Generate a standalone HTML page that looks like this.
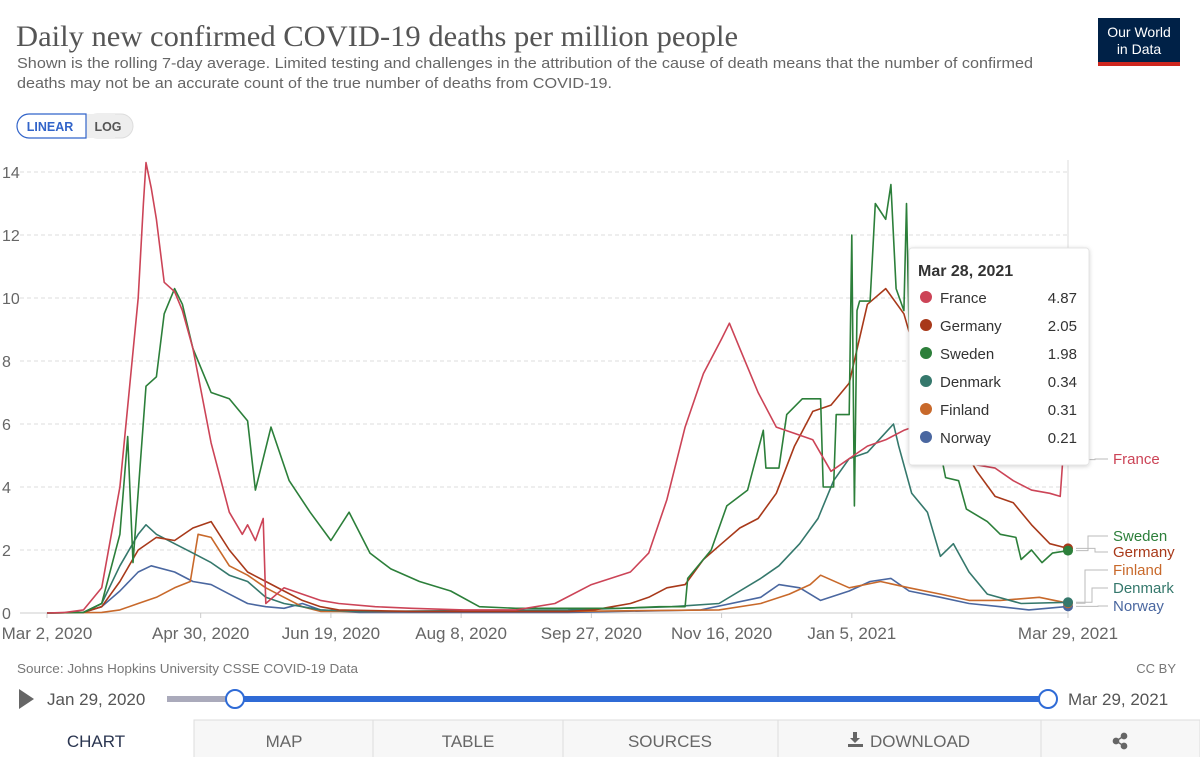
<!DOCTYPE html>
<html><head><meta charset="utf-8">
<style>
html,body{margin:0;padding:0;background:#fff;width:1200px;height:757px;overflow:hidden;font-family:"Liberation Sans",sans-serif;}
svg text{font-family:"Liberation Sans",sans-serif;}
</style></head>
<body>
<svg id="chart" width="1200" height="757" viewBox="0 0 1200 757" xmlns="http://www.w3.org/2000/svg">
  <defs>
    <filter id="sh" x="-10%" y="-10%" width="120%" height="120%"><feDropShadow dx="0" dy="1" stdDeviation="2" flood-color="#000" flood-opacity="0.18"/></filter>
  </defs>
  <text x="16" y="46" font-size="30" fill="#555" textLength="722" lengthAdjust="spacingAndGlyphs" style="font-family:'Liberation Serif',serif">Daily new confirmed COVID-19 deaths per million people</text>
  <text x="17" y="68" font-size="15" fill="#666" textLength="1016" lengthAdjust="spacingAndGlyphs">Shown is the rolling 7-day average. Limited testing and challenges in the attribution of the cause of death means that the number of confirmed</text>
  <text x="17" y="88" font-size="15" fill="#666" textLength="595" lengthAdjust="spacingAndGlyphs">deaths may not be an accurate count of the true number of deaths from COVID-19.</text>
  <g>
    <rect x="1098" y="18" width="82" height="48" fill="#002147"/>
    <rect x="1098" y="62" width="82" height="4" fill="#ce261e"/>
    <text x="1139" y="37" font-size="14" fill="#fff" text-anchor="middle">Our World</text>
    <text x="1139" y="54" font-size="14" fill="#fff" text-anchor="middle">in Data</text>
  </g>
  <g>
    <rect x="85" y="114" width="48" height="24" rx="12" fill="#eee" stroke="#ddd"/>
    <rect x="85" y="114" width="30" height="24" fill="#eee"/>
    <path d="M29,114 H86 V138 H29 A12,12 0 0 1 29,114 Z" fill="#fff" stroke="#3264c9" stroke-width="1.2"/>
    <text x="50" y="131" font-size="12.5" fill="#3264c9" text-anchor="middle" font-weight="bold">LINEAR</text>
    <text x="108" y="131" font-size="12.5" fill="#555" text-anchor="middle" font-weight="bold">LOG</text>
  </g>
  <g id="axes"></g>
  <g id="series"></g>
  <g id="labels"></g>
  <g filter="url(#sh)">
    <rect x="909" y="248" width="180" height="217" rx="3" fill="#fff" stroke="#e4e4e4"/>
  </g>
  <g id="tooltip-content"></g>

  <text x="17" y="673" font-size="13" fill="#777" textLength="341" lengthAdjust="spacingAndGlyphs">Source: Johns Hopkins University CSSE COVID-19 Data</text>
  <text x="1176" y="673" font-size="13" fill="#777" text-anchor="end">CC BY</text>
  <path d="M19,689 L34,699 L19,709 Z" fill="#666"/>
  <text x="47" y="705" font-size="17" fill="#555">Jan 29, 2020</text>
  <rect x="167" y="696" width="70" height="6" fill="#aab"/>
  <rect x="235" y="696" width="813" height="6" fill="#2f6bd6"/>
  <circle cx="235" cy="699" r="9" fill="#fff" stroke="#2f6bd6" stroke-width="2"/>
  <circle cx="1048" cy="699" r="9" fill="#fff" stroke="#2f6bd6" stroke-width="2"/>
  <text x="1068" y="705" font-size="17" fill="#555">Mar 29, 2021</text>

  <g>
    <rect x="194" y="720" width="1006" height="40" fill="#f7f7f7" stroke="#ddd"/>
    <line x1="373" y1="720" x2="373" y2="757" stroke="#ddd"/>
    <line x1="563" y1="720" x2="563" y2="757" stroke="#ddd"/>
    <line x1="778" y1="720" x2="778" y2="757" stroke="#ddd"/>
    <line x1="1041" y1="720" x2="1041" y2="757" stroke="#ddd"/>
    <text x="96" y="747" font-size="17" fill="#2a3550" text-anchor="middle">CHART</text>
    <text x="284" y="747" font-size="17" fill="#666" text-anchor="middle">MAP</text>
    <text x="468" y="747" font-size="17" fill="#666" text-anchor="middle">TABLE</text>
    <text x="670" y="747" font-size="17" fill="#666" text-anchor="middle">SOURCES</text>
    <g>
      <path d="M853,732 h4 v6 h3 l-5,5 l-5,-5 h3 Z M848,744 h15 v3 h-15 Z" fill="#666"/>
      <text x="920" y="747" font-size="17" fill="#666" text-anchor="middle">DOWNLOAD</text>
    </g>
    <g fill="#666" stroke="#666" stroke-width="1.5">
      <line x1="1116" y1="741" x2="1124" y2="736"/><line x1="1116" y1="741" x2="1124" y2="746"/>
      <circle cx="1116" cy="741" r="2.6"/><circle cx="1124" cy="736" r="2.6"/><circle cx="1124" cy="746" r="2.6"/>
    </g>
  </g>
</svg>
<script>
const yTicks = [0, 2, 4, 6, 8, 10, 12, 14];
const xTickDays = [0, 59, 109, 159, 209, 259, 309, 392];
const xTickLabels = ["Mar 2, 2020","Apr 30, 2020","Jun 19, 2020","Aug 8, 2020","Sep 27, 2020","Nov 16, 2020","Jan 5, 2021","Mar 29, 2021"];
const seriesNames = ["France","Germany","Sweden","Denmark","Finland","Norway"];
const tooltipValues = ["4.87","2.05","1.98","0.34","0.31","0.21"];
const franceDays = [0,7,14,21,28,35,37,38,40,42,45,49,52,56,63,70,75,77,80,83,84,91,98,105,112,126,140,160,180,195,209,224,231,238,245,252,259,262,266,273,280,287,294,301,308,315,322,329,336,343,350,357,364,371,378,385,389,390,392];
const franceValues = [0,0.02,0.1,0.8,4,10,13,14.3,13.5,12.5,10.5,10.2,9.6,8.4,5.4,3.2,2.5,2.8,2.3,3.0,0.3,0.8,0.6,0.4,0.3,0.2,0.15,0.1,0.1,0.3,0.9,1.3,1.9,3.6,5.9,7.6,8.7,9.2,8.4,7.0,5.9,5.7,5.5,4.5,4.9,5.3,5.5,5.8,6.0,5.8,5.5,4.7,4.6,4.2,3.9,3.8,3.7,4.87,4.87];
const germanyDays = [0,14,21,28,35,42,49,56,63,70,77,84,91,98,105,112,140,200,210,217,224,231,238,245,252,259,266,273,280,287,294,301,308,315,322,329,336,343,350,357,364,371,378,385,392];
const germanyValues = [0,0.02,0.2,1.0,2.0,2.4,2.3,2.7,2.9,2.0,1.3,1.0,0.7,0.4,0.2,0.1,0.05,0.05,0.1,0.2,0.3,0.5,0.8,0.9,1.7,2.2,2.7,3.0,3.8,5.3,6.4,6.6,7.3,9.8,10.3,9.5,7.5,6.5,5.5,4.5,3.7,3.5,2.8,2.2,2.05];
const swedenDays = [0,14,21,28,31,33,38,42,45,49,52,56,63,70,77,80,86,93,101,109,116,124,132,143,155,166,180,200,220,235,245,246,255,261,269,275,276,281,284,290,297,298,302,303,308,309,310,311,312,316,318,322,324,326,329,330,331,336,345,350,353,361,366,372,374,378,382,386,392];
const swedenValues = [0,0.02,0.3,2.5,5.6,1.6,7.2,7.5,9.5,10.3,9.8,8.4,7.0,6.8,6.1,3.9,5.9,4.2,3.2,2.3,3.2,1.9,1.4,1.0,0.7,0.2,0.15,0.15,0.15,0.2,0.2,1.1,2.0,3.4,3.9,5.8,4.6,4.6,6.3,6.8,6.8,4.0,4.0,6.3,6.3,12.0,3.4,9.6,9.9,9.9,13.0,12.5,13.6,10.3,9.6,13.0,9.0,8.0,4.3,4.2,3.3,2.9,2.5,2.4,1.7,2.0,1.6,1.9,1.98];
const denmarkDays = [0,14,21,28,35,38,42,49,56,63,70,77,84,91,98,105,120,200,240,258,274,281,289,296,302,308,315,325,327,332,338,343,348,354,361,374,392];
const denmarkValues = [0,0.02,0.3,1.5,2.5,2.8,2.5,2.2,1.9,1.6,1.2,1.0,0.5,0.3,0.2,0.1,0.05,0.1,0.2,0.3,1.1,1.5,2.2,3.0,4.2,4.9,5.1,6.0,5.3,3.8,3.2,1.8,2.2,1.3,0.6,0.3,0.34];
const finlandDays = [0,21,28,35,42,49,55,58,63,70,77,84,91,98,105,200,258,274,285,293,297,308,320,331,343,354,366,381,392];
const finlandValues = [0,0.02,0.1,0.3,0.5,0.8,1.0,2.5,2.4,1.5,1.2,0.8,0.5,0.2,0.05,0.05,0.1,0.3,0.6,0.9,1.2,0.8,1.0,0.8,0.6,0.4,0.4,0.5,0.31];
const norwayDays = [0,14,21,28,35,40,49,56,63,70,77,84,91,98,105,120,200,251,274,281,289,297,308,316,324,331,343,354,366,377,392];
const norwayValues = [0,0.02,0.2,0.7,1.3,1.5,1.3,1.0,0.9,0.6,0.3,0.2,0.15,0.3,0.1,0.02,0.02,0.1,0.5,0.9,0.8,0.4,0.7,1.0,1.1,0.7,0.5,0.3,0.2,0.1,0.21];

const NS = "http://www.w3.org/2000/svg";
const X0 = 47, X1 = 1068, DMAX = 392, Y0 = 613, YTOP = 172, VMAX = 14;
function xScale(d){ return X0 + (X1 - X0) * d / DMAX; }
function yScale(v){ return Y0 - (Y0 - YTOP) * v / VMAX; }
function mk(tag, attrs, parent){ const e = document.createElementNS(NS, tag); for (const k in attrs) e.setAttribute(k, attrs[k]); parent.appendChild(e); return e; }

const axes = document.getElementById('axes');
yTicks.forEach(v => {
  const y = yScale(v);
  if (v > 0) {
    const g = mk('line', {x1: 20, x2: X1, y1: y, y2: y, stroke: '#ddd', 'stroke-dasharray': '4,3'}, axes);
    
    
  }
  const t = mk('text', {x: 2, y: y + 6, 'font-size': 16, fill: '#666'}, axes);
  t.textContent = v;
  
  
});
const base = mk('line', {x1: 20, x2: X1, y1: Y0, y2: Y0, stroke: '#ccc'}, axes);


const rline = mk('line', {x1: X1, x2: X1, y1: 160, y2: Y0 + 5, stroke: '#ddd'}, axes);


xTickDays.forEach((d, i) => {
  const x = xScale(d);
  const tk = mk('line', {x1: x, x2: x, y1: Y0, y2: Y0 + 5, stroke: '#ccc'}, axes);
  
  
  const t = mk('text', {x: x, y: Y0 + 26, 'font-size': 17, fill: '#666', 'text-anchor': 'middle'}, axes);
  t.textContent = xTickLabels[i];
  
  
});

const colors = {France:'#cc4457', Germany:'#a8391a', Sweden:'#2c7f3a', Denmark:'#35786c', Finland:'#c8692b', Norway:'#4a67a0'};
const data = {France:[franceDays,franceValues], Germany:[germanyDays,germanyValues], Sweden:[swedenDays,swedenValues], Denmark:[denmarkDays,denmarkValues], Finland:[finlandDays,finlandValues], Norway:[norwayDays,norwayValues]};
const drawOrder = ["Norway","Finland","Denmark","Germany","Sweden","France"];
const sg = document.getElementById('series');
drawOrder.forEach(name => {
  const [ds, vs] = data[name];
  const pts = ds.map((d, i) => xScale(d).toFixed(1) + ',' + yScale(vs[i]).toFixed(1)).join(' ');
  const pl = mk('polyline', {points: pts, fill: 'none', stroke: colors[name], 'stroke-width': 1.6, 'stroke-linejoin': 'round'}, sg);
  
  
  const last = vs.length - 1;
  const c = mk('circle', {cx: xScale(ds[last]), cy: yScale(vs[last]), r: 5, fill: colors[name]}, sg);
  
  
});

const lg = document.getElementById('labels');
const labelY = {France: 464, Sweden: 541, Germany: 557, Finland: 575, Denmark: 593, Norway: 611};
const labelBend = {France: 1095, Sweden: 1088, Germany: 1095, Finland: 1085, Denmark: 1092, Norway: 1098};
seriesNames.forEach(name => {
  const [ds, vs] = data[name];
  const vy = yScale(vs[vs.length - 1]);
  const ly = labelY[name] - 5;
  const bx = labelBend[name];
  const p = mk('path', {d: `M${X1 + 8},${vy} H${bx} V${ly} H${1108}`, fill: 'none', stroke: '#bbb', 'stroke-width': 1}, lg);
  
  
  const t = mk('text', {x: 1113, y: labelY[name], 'font-size': 15, fill: colors[name]}, lg);
  t.textContent = name;
  
  
});

const tc = document.getElementById('tooltip-content');
const tt = mk('text', {x: 918, y: 276, 'font-size': 16, 'font-weight': 'bold', fill: '#333'}, tc);
tt.textContent = 'Mar 28, 2021';


seriesNames.forEach((name, i) => {
  const y = 298 + i * 28;
  const c = mk('circle', {cx: 926, cy: y - 1, r: 6, fill: colors[name]}, tc);
  
  
  const n = mk('text', {x: 940, y: y + 5, 'font-size': 15, fill: '#333'}, tc);
  n.textContent = name;
  
  
  const v = mk('text', {x: 1077, y: y + 5, 'font-size': 15, fill: '#333', 'text-anchor': 'end'}, tc);
  v.textContent = tooltipValues[i];
  
  
});
</script>
</body></html>
